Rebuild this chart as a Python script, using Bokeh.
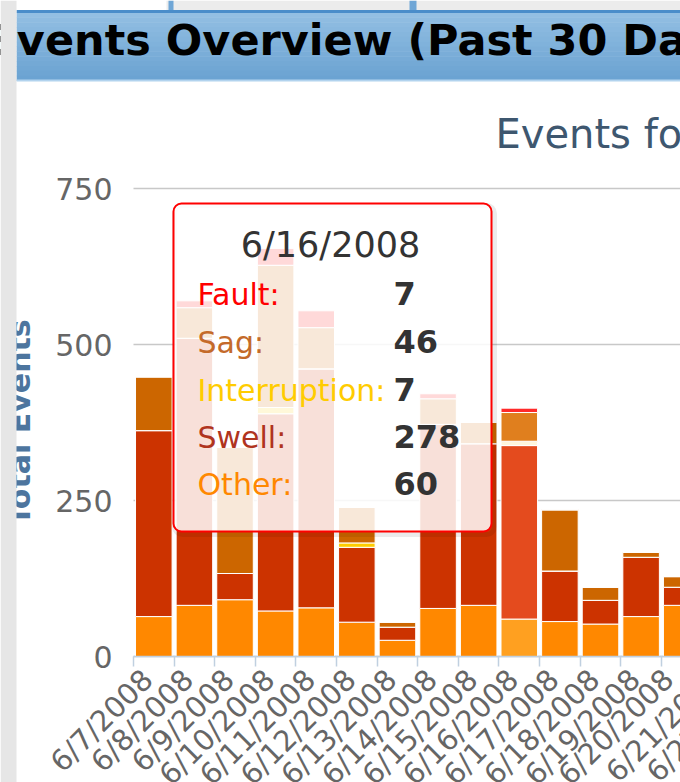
import math
from bokeh.plotting import figure
from bokeh.models import (ColumnDataSource, Range1d, FixedTicker, LinearAxis,
                          Label, BoxAnnotation)
from bokeh.core.properties import field
from bokeh.embed import file_html
from bokeh.resources import INLINE

# ---------------- data ----------------
dates = ["6/7/2008", "6/8/2008", "6/9/2008", "6/10/2008", "6/11/2008", "6/12/2008",
         "6/13/2008", "6/14/2008", "6/15/2008", "6/16/2008", "6/17/2008", "6/18/2008",
         "6/19/2008", "6/20/2008"]
more_dates = ["6/21/2008", "6/22/2008", "6/23/2008"]
series = ["Other", "Swell", "Interruption", "Sag", "Fault"]
other = [64, 82, 91, 73, 78, 55, 26, 77, 82, 60, 56, 52, 64, 82]
swell = [298, 428, 42, 316, 383, 120, 21, 295, 259, 278, 81, 38, 95, 29]
interruption = [0, 0, 0, 10, 0, 7, 0, 0, 0, 7, 0, 0, 0, 0]
sag = [86, 49, 202, 228, 66, 57, 8, 41, 34, 46, 98, 21, 8, 17]
fault = [0, 11, 0, 27, 27, 0, 0, 8, 0, 7, 0, 0, 0, 0]
y_ticks = [0, 250, 500, 750]
hover_date = "6/16/2008"
page_title = "Events Overview (Past 30 Days)"
chart_title = "Events for the Past 30 Days"
y_title = "Total Events"

base_colors = {"Other": "#FF8800", "Swell": "#CC3300", "Interruption": "#FFCC00",
               "Sag": "#CC6600", "Fault": "#FF0000"}
hover_colors = {"Other": "#FFA020", "Swell": "#E44B1E", "Interruption": "#FFF6DC",
                "Sag": "#E07F1E", "Fault": "#FF2A2A"}
tip_colors = {"Fault": "#FF0000", "Sag": "#C46A2A", "Interruption": "#FFCC00",
              "Swell": "#B0341E", "Other": "#FF8800"}
values = {"Other": other, "Swell": swell, "Interruption": interruption,
          "Sag": sag, "Fault": fault}

# ---------------- layout (page px) ----------------
FONT = "DejaVu Sans"
W, H = 680, 782
FL, FT, FB = 133, 188, 656       # plot area: left edge, y of 750, y of 0
X_END = 13.47                     # visible number of category slots
n = len(dates)
slot = (W - FL) / X_END
ppu = (FB - FT) / 750.0
BASE_SHIFT = 0.37                 # baseline correction (em) for Label text
LBL_OFF = 0.35                    # label anchor inside each slot
LBL_STANDOFF = 8
LBL_SIZE = 29

p = figure(width=W, height=H,
           x_range=Range1d(-FL / slot, X_END),
           y_range=Range1d(-(H - FB) / ppu, 750 + FT / ppu),
           x_axis_type=None, y_axis_type=None, output_backend="svg", toolbar_location=None,
           min_border=0, outline_line_color=None,
           background_fill_color="white", border_fill_color="white")
p.title.visible = False

# horizontal grid lines across the plot area only
p.segment(x0=[0] * len(y_ticks), x1=[X_END] * len(y_ticks), y0=y_ticks, y1=y_ticks,
          line_color="#C8C8C8", line_width=1.5, level="underlay")

# stacked columns
data = dict(x=[i + 0.5 for i in range(n)])
for s in series:
    data[s] = values[s]
    data["c_" + s] = [hover_colors[s] if d == hover_date else base_colors[s] for d in dates]
src = ColumnDataSource(data)
p.vbar_stack(series, x="x", width=0.9, source=src,
             fill_color=[field("c_" + s) for s in series],
             line_color="white", line_width=1)

# x axis
label_ticks = [i + LBL_OFF for i in range(n)]
xaxis = LinearAxis(fixed_location=0, bounds=(0, X_END),
                   ticker=FixedTicker(ticks=label_ticks, minor_ticks=list(range(n + 1))),
                   major_label_overrides={t: d for t, d in zip(label_ticks, dates)},
                   major_label_orientation=math.pi / 4,
                   major_tick_line_color=None, major_tick_out=0, major_tick_in=0,
                   minor_tick_line_color="#C0D0E0", minor_tick_out=10, minor_tick_in=0,
                   minor_tick_line_width=1.5,
                   axis_line_color="#C0D0E0", axis_line_width=1.5,
                   major_label_text_font=FONT, major_label_text_font_size="%dpx" % LBL_SIZE,
                   major_label_text_color="#666666", major_label_standoff=LBL_STANDOFF)
p.add_layout(xaxis, "below")

# y axis
yaxis = LinearAxis(fixed_location=0, bounds=(0, 750), ticker=FixedTicker(ticks=y_ticks),
                   axis_line_color=None, major_tick_line_color=None, minor_tick_line_color=None,
                   major_tick_out=0, major_tick_in=0, major_label_standoff=21,
                   major_label_text_font=FONT, major_label_text_font_size="30px",
                   major_label_text_color="#666666",
                   axis_label=y_title, axis_label_standoff=15,
                   axis_label_text_font=FONT, axis_label_text_font_size="30px",
                   axis_label_text_font_style="bold", axis_label_text_color="#4D759E")
p.add_layout(yaxis, "left")

# ---------------- helpers (canvas px) ----------------
def box(l, r, t, b, color, alpha=1.0, line_color=None, line_width=1, line_alpha=1.0, radius=0):
    p.add_layout(BoxAnnotation(left=l, right=r, top=t, bottom=b,
                               left_units="canvas", right_units="canvas",
                               top_units="canvas", bottom_units="canvas",
                               fill_color=color, fill_alpha=alpha, line_color=line_color,
                               line_width=line_width, line_alpha=line_alpha,
                               border_radius=radius))

def label(x, y, s, size, color, style="normal", align="left"):
    y_fix = y - BASE_SHIFT * size
    p.add_layout(Label(x=x, y=y_fix, x_units="canvas", y_units="canvas", text=s,
                       text_font=FONT, text_font_size="%dpx" % size, text_color=color,
                       text_font_style=style, text_align=align, text_baseline="alphabetic"))

# date labels of the next categories (their anchors lie past the right edge)
for k, d in enumerate(more_dates):
    xi = FL + (n + k + LBL_OFF) * slot
    p.add_layout(Label(x=xi, y=FB + LBL_STANDOFF + 7, x_units="canvas", y_units="canvas",
                       text=d, text_font=FONT, text_font_size="%dpx" % LBL_SIZE,
                       text_color="#666666", text_align="right", text_baseline="middle",
                       angle=math.pi / 4))

# ---------------- header ----------------
box(16, 166, 0, 10, "#FFFFFF")
box(166, W, 0, 10, "#ECECEC")
box(168, 173, 0, 10, "#6FA6D6")
box(409, 416, 0, 10, "#6FA6D6")
top_c = (0x93, 0xBF, 0xE3)
bot_c = (0x6B, 0xA3, 0xD2)
g0, g1, bands = 12, 80, 14
for k in range(bands):
    fr = k / (bands - 1)
    c = tuple(int(top_c[j] + (bot_c[j] - top_c[j]) * fr) for j in range(3))
    box(16, W, g0 + (g1 - g0) * k / bands, g0 + (g1 - g0) * (k + 1) / bands + 0.5,
        "#%02X%02X%02X" % c)
box(16, W, 9.5, 12.5, "#4A8DCA")
box(16, W, 79, 81, "#B2D3EE")
label(-13, 55, page_title, 43, "#000000", style="bold")

# chart title
label(495, 148, chart_title, 40, "#3E576F")

# ---------------- tooltip ----------------
box(174, 494, 205, 534, None, 0.0, "#000000", 5, 0.08, 8)
box(173, 491, 203, 531, "#FFFFFF", 0.85, "#FF0000", 2, 1.0, 8)
hi = dates.index(hover_date)
label(330, 257, hover_date, 35, "#333333", align="center")
row_y = [305, 353, 401, 448, 495]
for s, yy in zip(["Fault", "Sag", "Interruption", "Swell", "Other"], row_y):
    label(197, yy, s + ":", 30, tip_colors[s])
    label(393, yy, str(values[s][hi]), 32, "#333333", style="bold")

# gray page strip on the left
box(0, 16, 0, H, "#E6E6E6")

open("out.html", "w").write(file_html(p, INLINE))
